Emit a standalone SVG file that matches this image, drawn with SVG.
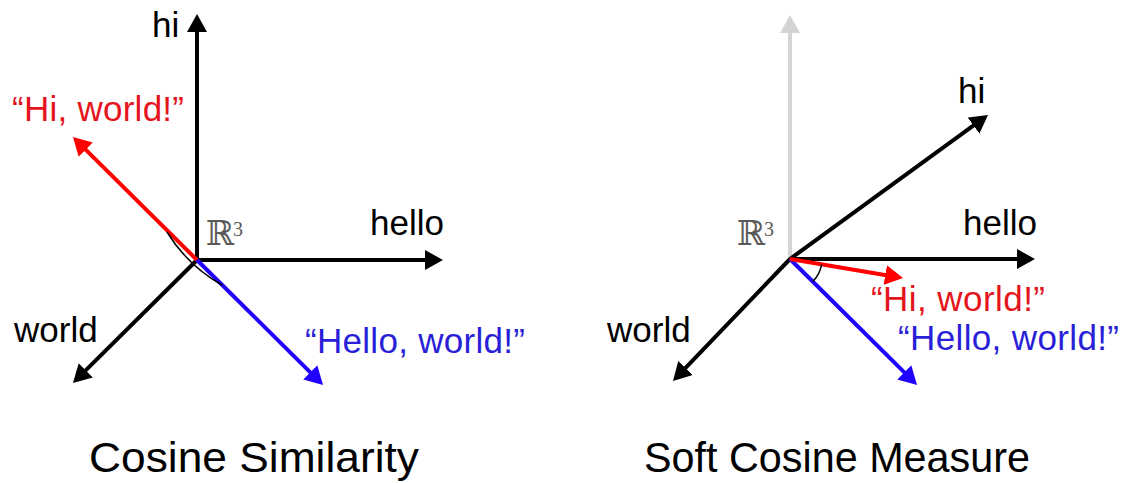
<svg xmlns="http://www.w3.org/2000/svg" width="1121" height="483" viewBox="0 0 1121 483">
<style>
.ax{stroke:#000;stroke-width:4;fill:none;marker-end:url(#hk)}
.gr{stroke:#d4d4d4;stroke-width:4;fill:none;marker-end:url(#hg)}
.rv{stroke:#ff0000;stroke-width:4;fill:none;marker-end:url(#hr)}
.bv{stroke:#2000ff;stroke-width:4;fill:none;marker-end:url(#hb)}
.arc{stroke:#000;stroke-width:1.5;fill:none}
.lb{font-family:"Liberation Sans",Arial,sans-serif;font-size:35px;fill:#000}
.red{fill:#e5141c}
.blue{fill:#2a1fd8}
.ttl{font-family:"Liberation Sans",Arial,sans-serif;font-size:43px;fill:#000}
.rr{font-family:"DejaVu Serif",serif;font-size:34px;fill:#5a5a5a}
.sup{font-family:"Liberation Serif",serif;font-size:20px;fill:#5a5a5a}
</style>
<defs>
<marker id="hk" viewBox="0 0 18 20" refX="4" refY="10" markerWidth="18" markerHeight="20" markerUnits="userSpaceOnUse" orient="auto"><path d="M0,0 L18,10 L0,20 z" fill="#000"/></marker>
<marker id="hg" viewBox="0 0 18 20" refX="4" refY="10" markerWidth="18" markerHeight="20" markerUnits="userSpaceOnUse" orient="auto"><path d="M0,0 L18,10 L0,20 z" fill="#d4d4d4"/></marker>
<marker id="hr" viewBox="0 0 18 20" refX="4" refY="10" markerWidth="18" markerHeight="20" markerUnits="userSpaceOnUse" orient="auto"><path d="M0,0 L18,10 L0,20 z" fill="#ff0000"/></marker>
<marker id="hb" viewBox="0 0 18 20" refX="4" refY="10" markerWidth="18" markerHeight="20" markerUnits="userSpaceOnUse" orient="auto"><path d="M0,0 L18,10 L0,20 z" fill="#2000ff"/></marker>
</defs>
<rect width="1121" height="483" fill="#fff"/>

<g id="connectors">
  <!-- left: cosine similarity -->
  <line class="ax" x1="197" y1="260" x2="197" y2="28"/>
  <line class="ax" x1="197" y1="260" x2="429" y2="260"/>
  <line class="ax" x1="197" y1="260" x2="82.9" y2="373.1"/>
  <line class="rv" x1="197" y1="260" x2="82.9" y2="146.9"/>
  <line class="bv" x1="197" y1="260" x2="313.1" y2="375.1"/>
  <path class="arc" d="M167,232 Q187.5,265.5 222,285"/>
  <!-- right: soft cosine measure -->
  <line class="gr" x1="790" y1="259" x2="790" y2="29"/>
  <line class="ax" x1="790" y1="259" x2="976.7" y2="123.2"/>
  <line class="ax" x1="790" y1="259" x2="1021" y2="259"/>
  <line class="ax" x1="790" y1="259" x2="682.7" y2="370.9"/>
  <line class="bv" x1="790" y1="259" x2="907.1" y2="375.1"/>
  <line class="rv" x1="790" y1="259" x2="889.2" y2="275.7"/>
  <path class="arc" d="M821.6,264.3 A32,32 0 0 1 812.7,281.6"/>
</g>

<g id="cosine-similarity">
  <g id="l-space"><text class="rr" x="206" y="245">ℝ</text><text class="sup" x="233" y="236">3</text></g>
  <g id="l-hi"><text class="lb" x="152" y="37">hi</text></g>
  <g id="l-hello"><text class="lb" x="370" y="235">hello</text></g>
  <g id="l-world"><text class="lb" x="14" y="342">world</text></g>
  <g id="l-hiworld"><text class="lb red" x="12" y="121" textLength="172" lengthAdjust="spacing">“Hi, world!”</text></g>
  <g id="l-helloworld"><text class="lb blue" x="305" y="353" textLength="220" lengthAdjust="spacing">“Hello, world!”</text></g>
  <g id="l-title"><text class="ttl" x="89" y="472" textLength="330" lengthAdjust="spacingAndGlyphs">Cosine Similarity</text></g>
</g>

<g id="soft-cosine">
  <g id="r-space"><text class="rr" x="737" y="245">ℝ</text><text class="sup" x="764" y="236">3</text></g>
  <g id="r-hi"><text class="lb" x="958" y="103">hi</text></g>
  <g id="r-hello"><text class="lb" x="963" y="235">hello</text></g>
  <g id="r-world"><text class="lb" x="607" y="342">world</text></g>
  <g id="r-hiworld"><text class="lb red" x="871" y="311" textLength="174" lengthAdjust="spacing">“Hi, world!”</text></g>
  <g id="r-helloworld"><text class="lb blue" x="898" y="350" textLength="221" lengthAdjust="spacing">“Hello, world!”</text></g>
  <g id="r-title"><text class="ttl" x="644" y="472" textLength="386" lengthAdjust="spacingAndGlyphs">Soft Cosine Measure</text></g>
</g>
</svg>
